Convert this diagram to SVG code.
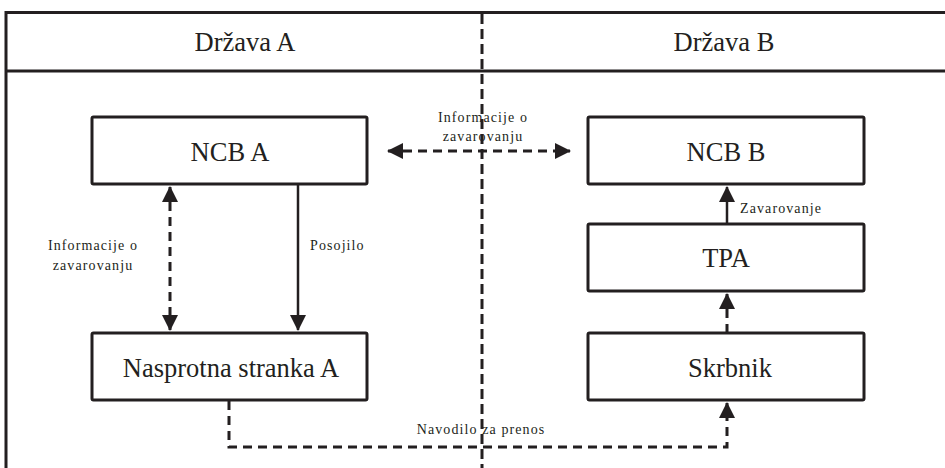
<svg xmlns="http://www.w3.org/2000/svg" width="945" height="468" viewBox="0 0 945 468">
<defs>
<style>
.box{fill:#fff;stroke:#231f20;stroke-width:3;}
.frame{fill:none;stroke:#231f20;stroke-width:3;}
.div{fill:none;stroke:#231f20;stroke-width:3;stroke-dasharray:10 5;}
.solid{fill:none;stroke:#231f20;stroke-width:2.5;}
.dash{fill:none;stroke:#231f20;stroke-width:3;stroke-dasharray:9 6;}
text{font-family:"Liberation Serif","Times New Roman","DejaVu Serif",serif;fill:#231f20;}
.big{font-size:26.5px;text-anchor:middle;}
.small{font-size:14px;letter-spacing:1.1px;}
</style>
<marker id="ah" viewBox="0 0 16 16" refX="15" refY="8" markerWidth="16" markerHeight="16" markerUnits="userSpaceOnUse" orient="auto-start-reverse">
<path d="M0,0 L16,8 L0,16 Z" fill="#231f20"/>
</marker>
</defs>
<rect width="945" height="468" fill="#fff"/>
<g id="frame">
<path class="frame" d="M6,468 V12.5 H950 M6,71 H950"/>
<path class="div" d="M482,14 V468"/>
<text class="big" x="245" y="51">Država A</text>
<text class="big" x="724" y="51">Država B</text>
</g>
<g id="ncb-a"><rect class="box" x="92" y="117" width="275" height="67" rx="1.5"/><text class="big" x="230" y="161">NCB A</text></g>
<g id="ncb-b"><rect class="box" x="588" y="117" width="276" height="67" rx="1.5"/><text class="big" x="726" y="161">NCB B</text></g>
<g id="tpa"><rect class="box" x="588" y="224" width="276" height="67" rx="1.5"/><text class="big" x="726" y="267">TPA</text></g>
<g id="skrbnik"><rect class="box" x="588" y="333" width="276" height="67" rx="1.5"/><text class="big" x="730" y="377">Skrbnik</text></g>
<g id="nasprotna"><rect class="box" x="92" y="333" width="275" height="67" rx="1.5"/><text class="big" x="231" y="377">Nasprotna stranka A</text></g>
<g id="connectors">
<path class="dash" d="M388,151 H570" marker-start="url(#ah)" marker-end="url(#ah)"/>
<path class="dash" d="M170,187 V330" marker-start="url(#ah)" marker-end="url(#ah)"/>
<path class="solid" d="M298,184 V330" marker-end="url(#ah)"/>
<path class="solid" d="M727,224 V187" marker-end="url(#ah)"/>
<path class="dash" d="M727,333 V294" marker-end="url(#ah)"/>
<path class="dash" d="M229,401 V447 H727 V403" marker-end="url(#ah)"/>
<text class="small" x="483" y="122" text-anchor="middle">Informacije o</text>
<text class="small" x="483" y="141" text-anchor="middle">zavarovanju</text>
<text class="small" x="93" y="250" text-anchor="middle">Informacije o</text>
<text class="small" x="93" y="270" text-anchor="middle">zavarovanju</text>
<text class="small" x="310" y="250">Posojilo</text>
<text class="small" x="740" y="213" letter-spacing="1.5">Zavarovanje</text>
<text class="small" x="481" y="434" text-anchor="middle">Navodilo za prenos</text>
</g>
</svg>
